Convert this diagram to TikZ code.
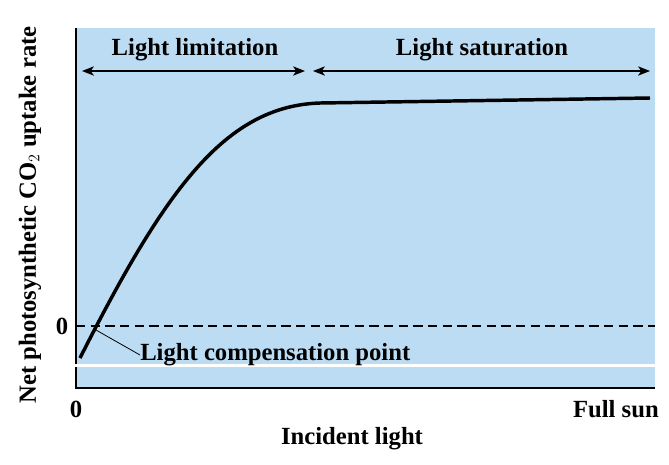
\documentclass[tikz,border=0pt]{standalone}
\usepackage{fontspec}
\setmainfont{Liberation Serif}
\usetikzlibrary{arrows.meta}
\definecolor{bgblue}{RGB}{187,220,243}
\tikzset{lbl/.style={font=\bfseries\fontsize{18.5}{21}\selectfont, inner sep=0pt},
rng/.style={{Stealth[length=9pt,width=7pt,inset=2.5pt]}-{Stealth[length=9pt,width=7pt,inset=2.5pt]}, line width=0.8pt}}
\begin{document}
\begin{tikzpicture}[x=0.75pt,y=-0.75pt]
\useasboundingbox (0,0) rectangle (669,465);
\fill[bgblue] (76,28) rectangle (655,388);
\draw[line width=0.9pt] (76,28) -- (76,388) -- (655,388);
\draw[dashed, line width=0.8pt, dash pattern=on 7pt off 4pt] (76,326) -- (655,326);
\draw[line width=2.6pt] (80,358) .. controls (165,190) and (225,106) .. (320,103) -- (650,98);
\fill[white] (60,363.5) rectangle (669,366.5);
\node[lbl] (lim) at (195,50) {Light limitation};
\node[lbl] (sat) at (482,50) {Light saturation};
\coordinate (a1) at (82,71); \coordinate (a2) at (305,71);
\coordinate (b1) at (313,71); \coordinate (b2) at (650,71);
\draw[rng] (a1) -- (a2);
\draw[rng] (b1) -- (b2);
\node[lbl] (z) at (62,326) {0};
\coordinate (cp) at (96,330);
\node[lbl, anchor=west] (lcp) at (140,355) {Light compensation point};
\draw[line width=0.6pt] (cp) -- (lcp.west);
\node[lbl] (x0) at (76,409) {0};
\node[lbl, anchor=east] (fs) at (659,409) {Full sun};
\node[lbl] (xl) at (352,439) {Incident light};
\node[lbl, rotate=90] (yl) at (30,215) {Net photosynthetic CO$_2$ uptake rate};
\end{tikzpicture}
\end{document}
